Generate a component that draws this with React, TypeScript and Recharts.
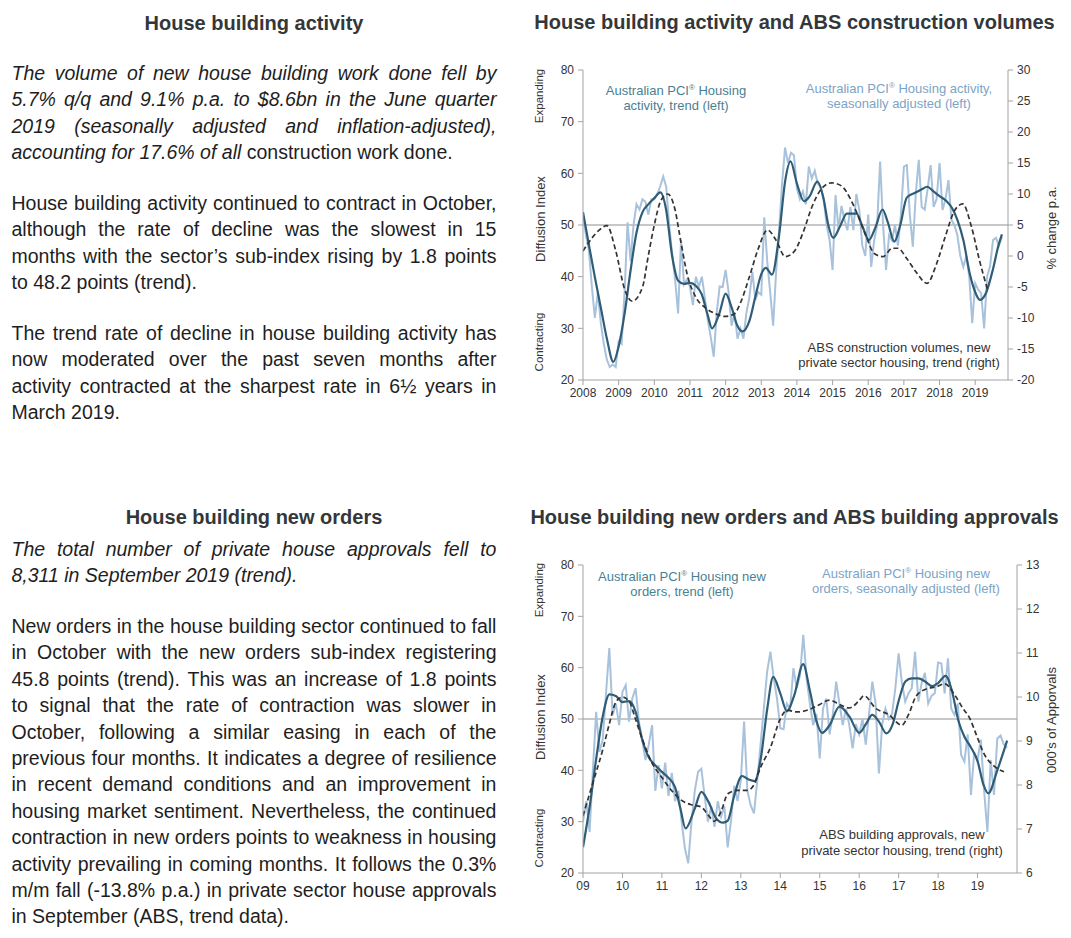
import React from "react";
import { LineChart, Line, XAxis, YAxis, ReferenceLine } from "recharts";

const FONT = '"Liberation Sans", Arial, Helvetica, sans-serif';

// ---- top chart: house building activity vs ABS construction volumes ----
const topYears = [2008, 2009, 2010, 2011, 2012, 2013, 2014, 2015, 2016, 2017, 2018, 2019];
const topLeftTicks = [20, 30, 40, 50, 60, 70, 80];
const topRightTicks = [-20, -15, -10, -5, 0, 5, 10, 15, 20, 25, 30];

// PCI housing activity, seasonally adjusted, monthly from Jan 2008
const topSA = [
  52, 48, 45, 38, 32, 37, 31, 27, 24, 22.5, 23, 22.5,
  27.5, 27, 37, 50.5, 43, 50, 54, 53, 55, 54.5, 52, 55,
  55, 56, 57.5, 59.4, 57.4, 50, 44.5, 39.4, 32.9, 47.1, 38.5, 39.5,
  38, 34.5, 40, 38, 40, 36, 31.6, 28.3, 24.5, 33, 38.1, 38,
  41.3, 37, 30.5, 33, 28, 30, 28, 33, 36, 41, 35.5, 37,
  36.5, 51.5, 43, 37, 30.5, 41, 49, 58, 65, 62, 64, 63.5,
  57, 55, 56.5, 54, 61.3, 59, 60.5, 58, 57.4, 55, 50, 47,
  41.3, 55.8, 49, 53.7, 51, 49, 53.5, 49, 56, 52.9, 46, 44,
  52, 41.9, 47, 50, 62.3, 50, 41.3, 48, 47, 50, 46, 52,
  61.3, 61.6, 52, 45.8, 56, 62.6, 53.5, 53, 57, 61.6, 53.5, 55,
  62, 52.9, 55, 58.7, 51, 50, 48, 44, 41.9, 44, 40, 31,
  38.7, 37.5, 36.8, 30, 40, 42, 47.1, 47.5, 46, 47.7,
];

// PCI housing activity, trend
const topTrend: [number, number][] = [
  [2008.0, 52.5], [2008.17, 46], [2008.33, 40], [2008.5, 34], [2008.67, 28], [2008.85, 23.5],
  [2009.0, 26.5], [2009.17, 33], [2009.33, 41], [2009.5, 48.5], [2009.67, 52.5], [2009.83, 54],
  [2010.0, 55.2], [2010.17, 56.3], [2010.33, 53], [2010.5, 44], [2010.67, 39.2], [2010.83, 38.6],
  [2011.0, 38.8], [2011.17, 38.2], [2011.33, 36.6], [2011.5, 32.5], [2011.62, 30], [2011.83, 33],
  [2012.0, 36.7], [2012.17, 34], [2012.33, 30.5], [2012.47, 29.4], [2012.67, 31.5], [2012.83, 36],
  [2013.0, 40.5], [2013.13, 41.7], [2013.3, 40.4], [2013.5, 48], [2013.67, 58.5], [2013.82, 62.3],
  [2014.0, 58], [2014.2, 54.6], [2014.35, 55.5], [2014.57, 58.4], [2014.75, 55], [2014.88, 50],
  [2015.02, 47.5], [2015.2, 49.6], [2015.4, 52.2], [2015.67, 52.2], [2015.85, 49.5], [2016.02, 47.1],
  [2016.2, 49.5], [2016.4, 53], [2016.55, 50.5], [2016.73, 46.8], [2016.9, 50], [2017.08, 55.3],
  [2017.3, 56.2], [2017.5, 56.9], [2017.65, 57.4], [2017.83, 56.5], [2018.0, 55.6], [2018.2, 54.6],
  [2018.35, 53.3], [2018.5, 51], [2018.67, 47], [2018.85, 40.5], [2019.0, 37], [2019.13, 35.5],
  [2019.3, 36.8], [2019.5, 41.5], [2019.65, 46], [2019.75, 48.2],
];

// ABS construction volumes, new private housing, trend (% change p.a., right axis)
const topAbs: [number, number][] = [
  [2008.0, 0.8], [2008.25, 2.9], [2008.5, 4.4], [2008.67, 4.9], [2008.92, 0.8], [2009.17, -5.4],
  [2009.38, -7.3], [2009.67, -5], [2009.83, 0], [2010.0, 5], [2010.17, 8.75], [2010.38, 10],
  [2010.58, 7.5], [2010.75, 2.1], [2010.92, -2.9], [2011.17, -6.7], [2011.42, -8.3], [2011.67, -9.2],
  [2012.0, -9.75], [2012.25, -9.3], [2012.42, -7.5], [2012.67, -3.3], [2012.92, 1.25], [2013.17, 4.2],
  [2013.42, 2.5], [2013.67, -0.1], [2013.92, 0.7], [2014.17, 3.75], [2014.42, 7.9], [2014.67, 10.7],
  [2014.97, 11.8], [2015.25, 11.3], [2015.5, 9.2], [2015.67, 7.1], [2015.92, 3.5], [2016.17, 0.4],
  [2016.42, -0.1], [2016.67, 1.25], [2016.83, 1.25], [2017.08, -0.4], [2017.33, -2.5], [2017.65, -4.4],
  [2017.92, -1.2], [2018.17, 3.3], [2018.42, 7.3], [2018.65, 8.4], [2018.9, 4.6], [2019.12, -0.7],
  [2019.35, -5.5],
];

// ---- bottom chart: new orders vs ABS building approvals ----
const bottomYears = [2009, 2010, 2011, 2012, 2013, 2014, 2015, 2016, 2017, 2018, 2019];
const bottomLeftTicks = [20, 30, 40, 50, 60, 70, 80];
const bottomRightTicks = [6, 7, 8, 9, 10, 11, 12, 13];

// PCI housing new orders, seasonally adjusted, monthly from Jan 2009
const bottomSA = [
  30, 34, 28, 40, 51.4, 43.6, 46, 55, 63.8, 50.8, 53, 48.8,
  55.3, 56.6, 49.5, 54, 56, 49.5, 46, 42, 45, 48.8, 36, 41,
  36.5, 41.5, 35, 39.5, 34, 36, 30, 24.8, 21.9, 30, 36, 39.7,
  40.3, 35, 30, 33, 29, 34, 31, 33, 25, 30, 37, 34,
  38, 49.5, 36, 33.2, 31.6, 38, 45, 52, 59.2, 63.1, 58, 54,
  48.2, 48, 53, 52, 59.9, 56, 58.5, 66.4, 58, 53, 48.8, 51,
  42.3, 52, 54, 47, 51, 57.3, 53, 48.8, 52, 48.8, 44.3, 49,
  47, 50, 45, 51, 57.3, 53, 39.4, 49, 52, 50, 51, 56,
  62.8, 57, 53.4, 55, 56, 63.1, 53.4, 57, 59, 53, 54.5, 55,
  61, 60.8, 55, 61.8, 52, 50.8, 53, 43, 41.7, 47, 35.2, 43.5,
  42, 46, 36, 28, 42, 35.2, 46.2, 46.8, 45, 44.4,
];

// PCI housing new orders, trend
const bottomTrend: [number, number][] = [
  [2009.0, 25], [2009.17, 33], [2009.33, 42], [2009.5, 50.5], [2009.67, 54.8], [2009.83, 54.5],
  [2010.0, 53.3], [2010.17, 53.5], [2010.33, 51.5], [2010.5, 46], [2010.67, 42.5], [2010.83, 41],
  [2011.0, 39.7], [2011.17, 38.5], [2011.33, 36.8], [2011.47, 32.5], [2011.6, 28.7], [2011.83, 32.5],
  [2012.0, 35.8], [2012.17, 34], [2012.38, 30.6], [2012.55, 29.8], [2012.67, 30.2], [2012.83, 35],
  [2013.03, 38.9], [2013.2, 38.2], [2013.35, 37.9], [2013.5, 42], [2013.67, 52], [2013.82, 58.2],
  [2014.0, 55], [2014.17, 51.5], [2014.35, 54.5], [2014.58, 60.7], [2014.75, 55.5], [2014.92, 49.5],
  [2015.06, 47.3], [2015.25, 48.8], [2015.5, 52.4], [2015.75, 50.5], [2016.0, 47.3], [2016.17, 49],
  [2016.33, 50.8], [2016.5, 49.5], [2016.69, 47.2], [2016.85, 49], [2017.0, 53.5], [2017.17, 57.3],
  [2017.33, 57.9], [2017.5, 57.9], [2017.67, 57.3], [2017.85, 56.4], [2018.0, 57], [2018.19, 58.4],
  [2018.35, 55.5], [2018.52, 49.5], [2018.67, 46.5], [2018.83, 44.5], [2019.0, 41.8], [2019.15, 37.2],
  [2019.27, 35.5], [2019.5, 40], [2019.75, 45.8],
];

// ABS building approvals, new private housing, trend ('000s, right axis)
const bottomAbs: [number, number][] = [
  [2009.0, 7.3], [2009.25, 8.05], [2009.5, 8.8], [2009.67, 9.4], [2009.83, 9.88], [2010.0, 10.0],
  [2010.17, 9.9], [2010.33, 9.5], [2010.5, 9.05], [2010.75, 8.5], [2011.0, 8.17], [2011.25, 7.87],
  [2011.5, 7.65], [2011.75, 7.55], [2012.0, 7.5], [2012.17, 7.32], [2012.33, 7.18], [2012.5, 7.4],
  [2012.67, 7.8], [2012.92, 7.88], [2013.17, 7.88], [2013.33, 8.0], [2013.5, 8.4], [2013.75, 8.85],
  [2014.0, 9.5], [2014.17, 9.7], [2014.42, 9.66], [2014.75, 9.72], [2015.0, 9.83], [2015.25, 9.93],
  [2015.5, 9.83], [2015.75, 9.75], [2016.0, 9.92], [2016.12, 10.03], [2016.42, 9.74], [2016.75, 9.6],
  [2017.08, 9.36], [2017.25, 9.6], [2017.45, 10.03], [2017.7, 10.18], [2017.95, 10.23], [2018.17, 10.3],
  [2018.42, 10.05], [2018.63, 9.74], [2018.8, 9.52], [2018.97, 9.14], [2019.17, 8.7], [2019.42, 8.43],
  [2019.67, 8.3],
];

// ---- commentary text ----
const activityIntro = [
  "The volume of new house building work done fell by",
  "5.7% q/q and 9.1% p.a. to $8.6bn in the June quarter",
  "2019 (seasonally adjusted and inflation-adjusted),",
];
const activityPara2 = [
  "House building activity continued to contract in October,",
  "although the rate of decline was the slowest in 15",
  "months with the sector\u2019s sub-index rising by 1.8 points",
  "to 48.2 points (trend).",
];
const activityPara3 = [
  "The trend rate of decline in house building activity has",
  "now moderated over the past seven months after",
  "activity contracted at the sharpest rate in 6\u00bd years in",
  "March 2019.",
];
const ordersIntro = [
  "The total number of private house approvals fell to",
  "8,311 in September 2019 (trend).",
];
const ordersPara = [
  "New orders in the house building sector continued to fall",
  "in October with the new orders sub-index registering",
  "45.8 points (trend). This was an increase of 1.8 points",
  "to signal that the rate of contraction was slower in",
  "October, following a similar easing in each of the",
  "previous four months. It indicates a degree of resilience",
  "in recent demand conditions and an improvement in",
  "housing market sentiment. Nevertheless, the continued",
  "contraction in new orders points to weakness in housing",
  "activity prevailing in coming months. It follows the 0.3%",
  "m/m fall (-13.8% p.a.) in private sector house approvals",
  "in September (ABS, trend data).",
];

const DARK = "#2f5c77";
const LIGHT = "#a9c2db";
const AXIS = "#a3a3a3";
const TXT = "#333";
const LH = 26.4;

const monthly = (start: number, vals: number[]) => vals.map((v, i) => ({ x: start + i / 12, v }));
const pairs = (arr: [number, number][]) => arr.map(([x, v]) => ({ x, v }));

function TextLine({ text, top, italic, justify }: { text: string; top: number; italic?: boolean; justify?: boolean }) {
  const style: React.CSSProperties = {
    position: "absolute",
    left: 11.5,
    width: 485,
    top,
    height: LH,
    lineHeight: `${LH}px`,
    fontSize: 19.5,
    fontStyle: italic ? "italic" : "normal",
    whiteSpace: "nowrap",
    color: "#1e1e1e",
  };
  if (!justify) return <div style={style}>{text}</div>;
  return (
    <div style={{ ...style, display: "flex", justifyContent: "space-between" }}>
      {text.split(" ").map((w, i) => (
        <span key={i}>{w}</span>
      ))}
    </div>
  );
}

// paragraph of fixed lines; every line but the last is justified (unless justifyAll)
function Para({ lines, top, italic, justifyAll }: { lines: string[]; top: number; italic?: boolean; justifyAll?: boolean }) {
  return (
    <>
      {lines.map((t, i) => (
        <TextLine key={i} text={t} top={top + i * LH} italic={italic} justify={justifyAll || i < lines.length - 1} />
      ))}
    </>
  );
}

function Title({ text, cx, top }: { text: string; cx: number; top: number }) {
  return (
    <div
      style={{
        position: "absolute",
        left: cx - 280,
        width: 560,
        top,
        lineHeight: `${LH}px`,
        textAlign: "center",
        fontSize: 20,
        fontWeight: "bold",
        color: "#33373a",
        whiteSpace: "nowrap",
      }}
    >
      {text}
    </div>
  );
}

function VLabel({ text, cx, cy, size }: { text: string; cx: number; cy: number; size: number }) {
  return (
    <div
      style={{
        position: "absolute",
        left: cx,
        top: cy,
        transform: "translate(-50%, -50%) rotate(-90deg)",
        fontSize: size,
        color: TXT,
        whiteSpace: "nowrap",
        lineHeight: 1,
      }}
    >
      {text}
    </div>
  );
}

function Note({ lines, cx, top, color, lh = 15 }: { lines: React.ReactNode[]; cx: number; top: number; color: string; lh?: number }) {
  return (
    <div
      style={{
        position: "absolute",
        left: cx - 150,
        width: 300,
        top,
        textAlign: "center",
        fontSize: 13,
        lineHeight: `${lh}px`,
        color,
        whiteSpace: "nowrap",
      }}
    >
      {lines.map((l, i) => (
        <div key={i}>{l}</div>
      ))}
    </div>
  );
}

const Reg = () => <sup style={{ fontSize: 8, verticalAlign: "5px", lineHeight: 0 }}>®</sup>;

type PanelProps = {
  left: number;
  top: number;
  width: number;
  height: number;
  rightW: number;
  xH: number;
  xDomain: [number, number];
  xTicks: number[];
  xFmt: (v: number) => string;
  lTicks: number[];
  rDomain: [number, number];
  rTicks: number[];
  sa: { x: number; v: number }[];
  trend: { x: number; v: number }[];
  abs: { x: number; v: number }[];
};

function Panel(p: PanelProps) {
  const tick = { fill: TXT, fontSize: 12 };
  return (
    <div style={{ position: "absolute", left: p.left, top: p.top }}>
      <LineChart width={p.width} height={p.height} margin={{ top: 15, right: 0, bottom: 0, left: 0 }}>
        <XAxis
          dataKey="x"
          type="number"
          domain={p.xDomain}
          ticks={p.xTicks}
          tickFormatter={p.xFmt}
          interval={0}
          allowDataOverflow
          height={p.xH}
          stroke={AXIS}
          tick={tick}
          tickSize={5}
          tickMargin={3}
        />
        <YAxis
          yAxisId="l"
          domain={[20, 80]}
          ticks={p.lTicks}
          interval={0}
          allowDataOverflow
          width={53}
          stroke={AXIS}
          tick={tick}
          tickSize={5}
          tickMargin={4}
        />
        <YAxis
          yAxisId="r"
          orientation="right"
          domain={p.rDomain}
          ticks={p.rTicks}
          interval={0}
          allowDataOverflow
          width={p.rightW}
          stroke={AXIS}
          tick={tick}
          tickSize={5}
          tickMargin={4}
        />
        <ReferenceLine yAxisId="l" y={50} stroke="#8f8f8f" strokeWidth={1} />
        <Line yAxisId="l" data={p.sa} dataKey="v" type="linear" stroke={LIGHT} strokeWidth={2} dot={false} activeDot={false} isAnimationActive={false} />
        <Line yAxisId="l" data={p.trend} dataKey="v" type="monotone" stroke={DARK} strokeWidth={2.2} dot={false} activeDot={false} isAnimationActive={false} />
        <Line yAxisId="r" data={p.abs} dataKey="v" type="monotone" stroke="#333" strokeWidth={1.7} strokeDasharray="5 3" dot={false} activeDot={false} isAnimationActive={false} />
      </LineChart>
    </div>
  );
}

export default function App() {
  return (
    <div
      style={{
        position: "absolute",
        left: 0,
        top: 0,
        width: 1071,
        height: 938,
        overflow: "hidden",
        background: "#fff",
        fontFamily: FONT,
      }}
    >
      {/* left column: house building activity */}
      <Title text="House building activity" cx={254} top={10} />
      <Para lines={activityIntro} top={60} italic justifyAll />
      <div
        style={{
          position: "absolute",
          left: 11.5,
          top: 60 + 3 * LH,
          lineHeight: `${LH}px`,
          fontSize: 19.5,
          whiteSpace: "nowrap",
          color: "#1e1e1e",
        }}
      >
        <i>accounting for 17.6% of all</i> construction work done.
      </div>
      <Para lines={activityPara2} top={190} />
      <Para lines={activityPara3} top={320} />

      {/* left column: house building new orders */}
      <Title text="House building new orders" cx={254} top={503.5} />
      <Para lines={ordersIntro} top={536} italic />
      <Para lines={ordersPara} top={613} />

      {/* top chart */}
      <Title text="House building activity and ABS construction volumes" cx={794.5} top={9} />
      <Panel
        left={530}
        top={55}
        width={541}
        height={355}
        rightW={63}
        xH={30}
        xDomain={[2008, 2019.92]}
        xTicks={topYears}
        xFmt={(v) => String(v)}
        lTicks={topLeftTicks}
        rDomain={[-20, 30]}
        rTicks={topRightTicks}
        sa={monthly(2008, topSA)}
        trend={pairs(topTrend)}
        abs={pairs(topAbs)}
      />
      <VLabel text="Expanding" cx={540} cy={96} size={11.5} />
      <VLabel text="Diffusion Index" cx={540} cy={219} size={13} />
      <VLabel text="Contracting" cx={540} cy={342} size={11.5} />
      <VLabel text="% change p.a." cx={1051} cy={228} size={13} />
      <Note lines={[<>Australian PCI<Reg /> Housing</>, "activity, trend (left)"]} cx={676} top={82.5} color="#4a7f93" />
      <Note lines={[<>Australian PCI<Reg /> Housing activity,</>, "seasonally adjusted (left)"]} cx={899} top={81} color="#7da3c6" />
      <Note lines={["ABS construction volumes, new", "private sector housing, trend (right)"]} cx={899} top={340} color={TXT} />

      {/* bottom chart */}
      <Title text="House building new orders and ABS building approvals" cx={794.5} top={504} />
      <Panel
        left={530}
        top={550}
        width={541}
        height={360}
        rightW={54}
        xH={37}
        xDomain={[2009, 2020]}
        xTicks={bottomYears}
        xFmt={(v) => String(v).slice(2)}
        lTicks={bottomLeftTicks}
        rDomain={[6, 13]}
        rTicks={bottomRightTicks}
        sa={monthly(2009, bottomSA)}
        trend={pairs(bottomTrend)}
        abs={pairs(bottomAbs)}
      />
      <VLabel text="Expanding" cx={540} cy={590} size={11.5} />
      <VLabel text="Diffusion Index" cx={540} cy={717} size={13} />
      <VLabel text="Contracting" cx={540} cy={838} size={11.5} />
      <VLabel text="000's of Apporvals" cx={1051} cy={720} size={13} />
      <Note lines={[<>Australian PCI<Reg /> Housing new</>, "orders, trend (left)"]} cx={682} top={568.5} color="#4a7f93" />
      <Note lines={[<>Australian PCI<Reg /> Housing new</>, "orders, seasonally adjusted (left)"]} cx={906} top={566} color="#7da3c6" />
      <Note lines={["ABS building approvals, new", "private sector housing, trend (right)"]} cx={902} top={826.5} color={TXT} lh={16} />
    </div>
  );
}
